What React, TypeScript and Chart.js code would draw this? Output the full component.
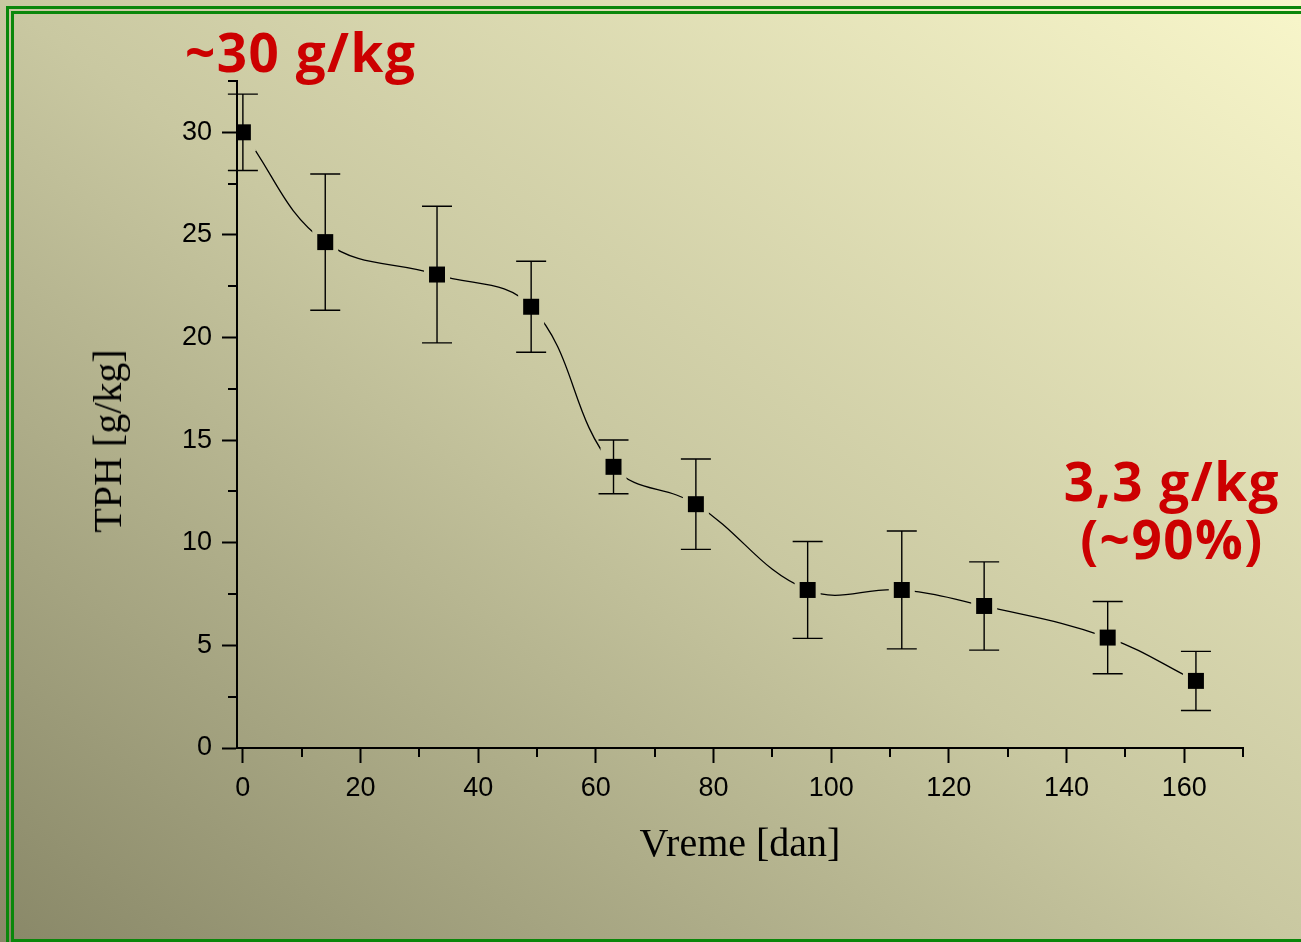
import React, { useEffect, useRef } from "react";
import { Chart, registerables } from "chart.js";

Chart.register(...registerables);

// ---- data ----
const days = [0, 14, 33, 49, 63, 77, 96, 112, 126, 147, 162];
const tph = [30.0, 24.65, 23.07, 21.5, 13.7, 11.88, 7.7, 7.7, 6.92, 5.38, 3.27];
const tphErr = [1.86, 3.32, 3.33, 2.22, 1.31, 2.2, 2.36, 2.87, 2.15, 1.76, 1.44];

const xMajorTicks = [0, 20, 40, 60, 80, 100, 120, 140, 160];
const xMinorTicks = [10, 30, 50, 70, 90, 110, 130, 150, 170];
const yMajorTicks = [0, 5, 10, 15, 20, 25, 30];
const yMinorTicks = [2.5, 7.5, 12.5, 17.5, 22.5, 27.5, 32.5];
const xRange = [-1, 170];
const yRange = [0, 32.5];

const xTitle = "Vreme [dan]";
const yTitle = "TPH [g/kg]";
const startNote = "~30 g/kg";
const endNote = ["3,3 g/kg", "(~90%)"];

const W = 1301;
const H = 942;

const errorBarPlugin = {
  id: "errorBars",
  beforeDatasetsDraw(chart: any) {
    const { ctx } = chart;
    const x = chart.scales.x;
    const y = chart.scales.y;
    ctx.save();
    ctx.strokeStyle = "#000";
    ctx.lineWidth = 1.4;
    days.forEach((d, i) => {
      const px = x.getPixelForValue(d);
      const top = y.getPixelForValue(tph[i] + tphErr[i]);
      const bot = y.getPixelForValue(tph[i] - tphErr[i]);
      ctx.beginPath();
      ctx.moveTo(px, top);
      ctx.lineTo(px, bot);
      ctx.moveTo(px - 15, top);
      ctx.lineTo(px + 15, top);
      ctx.moveTo(px - 15, bot);
      ctx.lineTo(px + 15, bot);
      ctx.stroke();
    });
    ctx.restore();
  },
};

const gapPlugin = {
  id: "lineGaps",
  beforeDatasetDraw(chart: any, args: any) {
    if (args.index !== 1) return;
    const { ctx } = chart;
    const x = chart.scales.x;
    const y = chart.scales.y;
    ctx.save();
    ctx.beginPath();
    ctx.rect(0, 0, chart.width, chart.height);
    days.forEach((d, i) => {
      const px = x.getPixelForValue(d);
      const py = y.getPixelForValue(tph[i]);
      ctx.rect(px - 13, py - 19, 26, 38);
    });
    ctx.clip("evenodd");
  },
  afterDatasetDraw(chart: any, args: any) {
    if (args.index !== 1) return;
    chart.ctx.restore();
  },
};

const minorTickPlugin = {
  id: "minorTicks",
  afterDraw(chart: any) {
    const { ctx, chartArea } = chart;
    const x = chart.scales.x;
    const y = chart.scales.y;
    ctx.save();
    ctx.strokeStyle = "#000";
    ctx.lineWidth = 2;
    ctx.beginPath();
    xMinorTicks.forEach((v) => {
      const px = Math.round(x.getPixelForValue(v));
      ctx.moveTo(px, chartArea.bottom);
      ctx.lineTo(px, chartArea.bottom + 9);
    });
    yMinorTicks.forEach((v) => {
      const py = Math.round(y.getPixelForValue(v));
      ctx.moveTo(chartArea.left - 9, py);
      ctx.lineTo(chartArea.left, py);
    });
    ctx.stroke();
    ctx.restore();
  },
};

export default function App() {
  const canvasRef = useRef<HTMLCanvasElement | null>(null);

  useEffect(() => {
    if (!canvasRef.current) return;
    const points = days.map((d, i) => ({ x: d, y: tph[i] }));
    const tickFont = { family: "'Liberation Sans', Arial, sans-serif", size: 27 };
    const chart = new Chart(canvasRef.current, {
      type: "line",
      data: {
        datasets: [
          {
            label: "TPH",
            data: points,
            showLine: false,
            pointStyle: "rect",
            pointRadius: 11.3,
            pointBorderWidth: 0,
            pointBackgroundColor: "#000",
            borderColor: "#000",
          },
          {
            label: "curve",
            data: points,
            pointRadius: 0,
            borderColor: "#000",
            borderWidth: 1.3,
            tension: 0.4,
            fill: false,
          },
        ],
      },
      options: {
        responsive: false,
        animation: false,
        events: [],
        layout: { padding: { top: 81, right: 58, bottom: 0, left: 0 } },
        plugins: {
          legend: { display: false },
          tooltip: { enabled: false },
        },
        scales: {
          x: {
            type: "linear",
            min: xRange[0],
            max: xRange[1],
            afterBuildTicks: (s: any) => {
              s.ticks = xMajorTicks.map((v) => ({ value: v }));
            },
            afterFit: (s: any) => {
              s.height = H - 748;
            },
            grid: {
              drawOnChartArea: false,
              drawTicks: true,
              tickLength: 15,
              tickWidth: 2,
              tickColor: "#000",
            },
            border: { display: true, color: "#000", width: 2 },
            ticks: {
              color: "#000",
              font: tickFont,
              padding: 9,
              maxRotation: 0,
              autoSkip: false,
            },
            title: {
              display: true,
              text: xTitle,
              color: "#000",
              font: { family: "'Liberation Serif', 'Times New Roman', serif", size: 40 },
              padding: { top: 0, bottom: 73 },
            },
          },
          y: {
            type: "linear",
            min: yRange[0],
            max: yRange[1],
            afterBuildTicks: (s: any) => {
              s.ticks = yMajorTicks.map((v) => ({ value: v }));
            },
            afterFit: (s: any) => {
              s.width = 237;
            },
            grid: {
              drawOnChartArea: false,
              drawTicks: true,
              tickLength: 15,
              tickWidth: 2,
              tickColor: "#000",
            },
            border: { display: true, color: "#000", width: 2 },
            ticks: {
              color: "#000",
              font: tickFont,
              padding: 10,
              autoSkip: false,
            },
          },
        },
      },
      plugins: [errorBarPlugin, gapPlugin, minorTickPlugin],
    } as any);
    return () => chart.destroy();
  }, []);

  const green = "#0a870a";
  const noteStyle: React.CSSProperties = {
    position: "absolute",
    color: "#cc0000",
    fontFamily: "'Open Sans', 'Lato', sans-serif",
    fontWeight: 700,
    fontSize: 53,
    letterSpacing: 1.5,
    whiteSpace: "nowrap",
  };

  return (
    <div
      style={{
        position: "absolute",
        left: 0,
        top: 0,
        width: W,
        height: H,
        overflow: "hidden",
        background:
          "linear-gradient(to top right, #898868 0%, #c9c8a1 50%, #f8f6ca 100%)",
      }}
    >
      <div
        style={{
          position: "absolute",
          left: 6,
          top: 6,
          width: 1400,
          height: 1000,
          borderTop: `3px solid ${green}`,
          borderLeft: `3px solid ${green}`,
        }}
      />
      <div
        style={{
          position: "absolute",
          left: 11,
          top: 11,
          width: 1400,
          height: H - 11,
          boxSizing: "border-box",
          borderTop: `3px solid ${green}`,
          borderLeft: `3px solid ${green}`,
          borderBottom: `3px solid ${green}`,
        }}
      />
      <canvas
        ref={canvasRef}
        width={W}
        height={H}
        style={{ position: "absolute", left: 0, top: 0, width: W, height: H }}
      />
      <div
        style={{
          position: "absolute",
          left: 108,
          top: 441,
          transform: "translate(-50%, -50%) rotate(-90deg)",
          fontFamily: "'Liberation Serif', 'Times New Roman', serif",
          fontSize: 40,
          lineHeight: 1,
          color: "#000",
          whiteSpace: "nowrap",
        }}
      >
        {yTitle}
      </div>
      <div style={{ ...noteStyle, left: 185, top: 25, lineHeight: 1 }}>{startNote}</div>
      <div
        style={{
          ...noteStyle,
          right: 21,
          top: 452,
          lineHeight: "58px",
          textAlign: "center",
        }}
      >
        {endNote.map((t, i) => (
          <div key={i}>{t}</div>
        ))}
      </div>
    </div>
  );
}
